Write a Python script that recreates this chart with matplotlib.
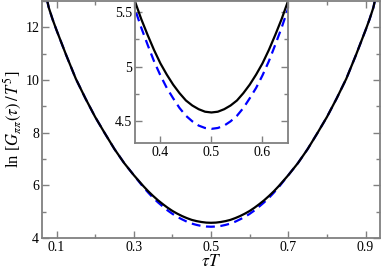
import matplotlib
matplotlib.use("Agg")
import matplotlib.pyplot as plt
from matplotlib.ticker import MultipleLocator

plt.rcParams['font.family'] = ['Liberation Serif', 'DejaVu Serif']
plt.rcParams['mathtext.fontset'] = 'stix'

tau = [0.070, 0.080, 0.090, 0.100, 0.125, 0.150, 0.175, 0.200, 0.225, 0.250,
       0.275, 0.300, 0.325, 0.3375, 0.350, 0.3625, 0.375, 0.3875, 0.400, 0.4125,
       0.425, 0.4375, 0.450, 0.4625, 0.475, 0.4875, 0.500,
       0.5125, 0.525, 0.5375, 0.550, 0.5625, 0.575, 0.5875, 0.600, 0.6125,
       0.625, 0.6375, 0.650, 0.6625, 0.675, 0.700, 0.725, 0.750,
       0.775, 0.800, 0.825, 0.850, 0.875, 0.900, 0.910, 0.920, 0.930]
full = [13.40, 12.75, 12.30, 11.90, 10.95, 10.05, 9.30, 8.60, 7.98, 7.38,
        6.85, 6.39, 5.97, 5.776, 5.60, 5.436, 5.29, 5.153, 5.03, 4.927,
        4.835, 4.757, 4.69, 4.644, 4.61, 4.587, 4.58,
        4.587, 4.61, 4.644, 4.69, 4.757, 4.835, 4.927, 5.03, 5.153,
        5.29, 5.436, 5.60, 5.776, 5.97, 6.39, 6.85, 7.38,
        7.98, 8.60, 9.30, 10.05, 10.95, 11.90, 12.30, 12.75, 13.40]
approx = [13.40, 12.75, 12.30, 11.90, 10.95, 10.05, 9.30, 8.60, 7.98, 7.38,
          6.85, 6.39, 5.93, 5.724, 5.53, 5.357, 5.20, 5.050, 4.92, 4.805,
          4.71, 4.621, 4.55, 4.499, 4.46, 4.438, 4.43,
          4.438, 4.46, 4.499, 4.55, 4.621, 4.71, 4.805, 4.92, 5.050,
          5.20, 5.357, 5.53, 5.724, 5.93, 6.39, 6.85, 7.38,
          7.98, 8.60, 9.30, 10.05, 10.95, 11.90, 12.30, 12.75, 13.40]

main_xticks = [0.1, 0.3, 0.5, 0.7, 0.9]
main_yticks = [4, 6, 8, 10, 12]
inset_xticks = [0.4, 0.5, 0.6]
inset_yticks = [4.5, 5, 5.5]

spine_col = '#808080'

fig = plt.figure(figsize=(3.82, 2.73), dpi=100)
ax = fig.add_axes([0.110, 0.128, 0.885, 0.868])
ax.plot(tau, approx, color='#0000ff', lw=1.6, dashes=(4, 2.5))
ax.plot(tau, full, color='black', lw=1.6)
ax.set_xlim(0.0625, 0.9375)
ax.set_ylim(4, 13)
ax.set_xticks(main_xticks)
ax.set_xticklabels([f"{v:g}" for v in main_xticks])
ax.set_yticks(main_yticks)
ax.xaxis.set_minor_locator(MultipleLocator(0.1))
ax.yaxis.set_minor_locator(MultipleLocator(1))
ax.tick_params(which='both', direction='in', top=True, right=True,
               color=spine_col, width=1.0, labelsize=10, pad=2)
ax.tick_params(which='major', length=5)
ax.tick_params(which='minor', length=3)
for s in ax.spines.values():
    s.set_color(spine_col)
    s.set_linewidth(1.3)
ax.set_xlabel(r'$\tau T$', fontsize=12.5, labelpad=0)
ax.set_ylabel(r'ln [$G_{\pi\pi}(\tau)\,/\,T^5$]', fontsize=12, labelpad=1)

ins = fig.add_axes([0.353, 0.476, 0.401, 0.520])
ins.plot(tau, approx, color='#0000ff', lw=1.6, dashes=(4, 2.5))
ins.plot(tau, full, color='black', lw=1.6)
ins.set_xlim(0.35, 0.65)
ins.set_ylim(4.3, 5.6)
ins.set_xticks(inset_xticks)
ins.set_xticklabels([f"{v:g}" for v in inset_xticks])
ins.set_yticks(inset_yticks)
ins.set_yticklabels([f"{v:g}" for v in inset_yticks])
ins.yaxis.set_minor_locator(MultipleLocator(0.25))
ins.tick_params(which='both', direction='in', right=True, top=False,
                color=spine_col, width=1.0, labelsize=10, pad=2)
ins.tick_params(which='major', length=5)
ins.tick_params(which='minor', length=3)
for s in ins.spines.values():
    s.set_color(spine_col)
    s.set_linewidth(1.3)

fig.savefig('out.png', dpi=100)
